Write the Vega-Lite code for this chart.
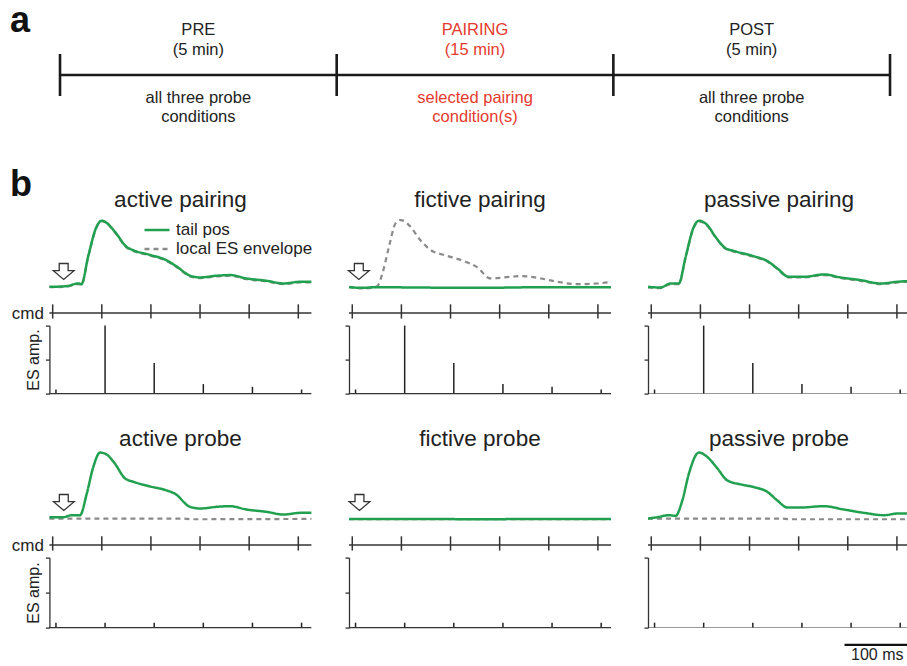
{
  "$schema": "https://vega.github.io/schema/vega-lite/v6.json",
  "padding": 0,
  "background": "white",
  "config": {
    "view": {"stroke": null},
    "font": "Liberation Sans",
    "title": {"font": "Liberation Sans", "color": "#222222", "fontWeight": "normal"},
    "axis": {"titleFont": "Liberation Sans"},
    "line": {"interpolate": "monotone"}
  },
  "datasets": {
    "phases": [
      {"phase": "PRE", "start": 0, "end": 1, "mid": 0.5, "above": ["PRE", "(5 min)"], "below": ["all three probe", "conditions"], "highlight": false},
      {"phase": "PAIRING", "start": 1, "end": 2, "mid": 1.5, "above": ["PAIRING", "(15 min)"], "below": ["selected pairing", "condition(s)"], "highlight": true},
      {"phase": "POST", "start": 2, "end": 3, "mid": 2.5, "above": ["POST", "(5 min)"], "below": ["all three probe", "conditions"], "highlight": false}
    ],
    "boundaries": [{"b": 0}, {"b": 1}, {"b": 2}, {"b": 3}],
    "track": [{"start": 0, "end": 400}],
    "cmd": [{"t": 5}, {"t": 80}, {"t": 155}, {"t": 230}, {"t": 305}, {"t": 380}],
    "es": [
      {"phase": "pairing", "t": 10, "amp": 0.06},
      {"phase": "pairing", "t": 85, "amp": 1.0},
      {"phase": "pairing", "t": 160, "amp": 0.45},
      {"phase": "pairing", "t": 235, "amp": 0.14},
      {"phase": "pairing", "t": 310, "amp": 0.1},
      {"phase": "pairing", "t": 385, "amp": 0.06},
      {"phase": "probe", "t": 10, "amp": 0.07},
      {"phase": "probe", "t": 85, "amp": 0.07},
      {"phase": "probe", "t": 160, "amp": 0.07},
      {"phase": "probe", "t": 235, "amp": 0.07},
      {"phase": "probe", "t": 310, "amp": 0.07},
      {"phase": "probe", "t": 385, "amp": 0.07}
    ],
    "arrows": [
      {"panel": "active pairing", "t": 21.8, "v": 0.234},
      {"panel": "fictive pairing", "t": 15, "v": 0.234},
      {"panel": "active probe", "t": 22, "v": 0.22},
      {"panel": "fictive probe", "t": 16, "v": 0.22}
    ],
    "scalebar": [{"start": 300, "end": 400, "mid": 350, "label": "100 ms"}],
    "traces": [
      {"panel": "active pairing", "series": "tail pos", "t": 0, "v": 0.005},
      {"panel": "active pairing", "series": "tail pos", "t": 26, "v": 0.015},
      {"panel": "active pairing", "series": "tail pos", "t": 44, "v": 0.055},
      {"panel": "active pairing", "series": "tail pos", "t": 49, "v": 0.045},
      {"panel": "active pairing", "series": "tail pos", "t": 59, "v": 0.45},
      {"panel": "active pairing", "series": "tail pos", "t": 72, "v": 0.9},
      {"panel": "active pairing", "series": "tail pos", "t": 80, "v": 0.99},
      {"panel": "active pairing", "series": "tail pos", "t": 87, "v": 0.96},
      {"panel": "active pairing", "series": "tail pos", "t": 100, "v": 0.825},
      {"panel": "active pairing", "series": "tail pos", "t": 118, "v": 0.6},
      {"panel": "active pairing", "series": "tail pos", "t": 128, "v": 0.55},
      {"panel": "active pairing", "series": "tail pos", "t": 154, "v": 0.48},
      {"panel": "active pairing", "series": "tail pos", "t": 179, "v": 0.4},
      {"panel": "active pairing", "series": "tail pos", "t": 194, "v": 0.31},
      {"panel": "active pairing", "series": "tail pos", "t": 215, "v": 0.17},
      {"panel": "active pairing", "series": "tail pos", "t": 230, "v": 0.145},
      {"panel": "active pairing", "series": "tail pos", "t": 255, "v": 0.17},
      {"panel": "active pairing", "series": "tail pos", "t": 276, "v": 0.18},
      {"panel": "active pairing", "series": "tail pos", "t": 301, "v": 0.13},
      {"panel": "active pairing", "series": "tail pos", "t": 332, "v": 0.095},
      {"panel": "active pairing", "series": "tail pos", "t": 357, "v": 0.055},
      {"panel": "active pairing", "series": "tail pos", "t": 383, "v": 0.08},
      {"panel": "active pairing", "series": "tail pos", "t": 400, "v": 0.08},
      {"panel": "active pairing", "series": "local ES envelope", "t": 0, "v": 0.0},
      {"panel": "active pairing", "series": "local ES envelope", "t": 26, "v": 0.005},
      {"panel": "active pairing", "series": "local ES envelope", "t": 44, "v": 0.045},
      {"panel": "active pairing", "series": "local ES envelope", "t": 49, "v": 0.04},
      {"panel": "active pairing", "series": "local ES envelope", "t": 59, "v": 0.44},
      {"panel": "active pairing", "series": "local ES envelope", "t": 72, "v": 0.89},
      {"panel": "active pairing", "series": "local ES envelope", "t": 80, "v": 0.985},
      {"panel": "active pairing", "series": "local ES envelope", "t": 87, "v": 0.955},
      {"panel": "active pairing", "series": "local ES envelope", "t": 100, "v": 0.815},
      {"panel": "active pairing", "series": "local ES envelope", "t": 118, "v": 0.59},
      {"panel": "active pairing", "series": "local ES envelope", "t": 128, "v": 0.54},
      {"panel": "active pairing", "series": "local ES envelope", "t": 154, "v": 0.47},
      {"panel": "active pairing", "series": "local ES envelope", "t": 179, "v": 0.39},
      {"panel": "active pairing", "series": "local ES envelope", "t": 194, "v": 0.3},
      {"panel": "active pairing", "series": "local ES envelope", "t": 215, "v": 0.16},
      {"panel": "active pairing", "series": "local ES envelope", "t": 230, "v": 0.135},
      {"panel": "active pairing", "series": "local ES envelope", "t": 255, "v": 0.16},
      {"panel": "active pairing", "series": "local ES envelope", "t": 276, "v": 0.17},
      {"panel": "active pairing", "series": "local ES envelope", "t": 301, "v": 0.12},
      {"panel": "active pairing", "series": "local ES envelope", "t": 332, "v": 0.085},
      {"panel": "active pairing", "series": "local ES envelope", "t": 357, "v": 0.045},
      {"panel": "active pairing", "series": "local ES envelope", "t": 383, "v": 0.07},
      {"panel": "active pairing", "series": "local ES envelope", "t": 400, "v": 0.07},
      {"panel": "fictive pairing", "series": "tail pos", "t": 0, "v": 0.0},
      {"panel": "fictive pairing", "series": "tail pos", "t": 20, "v": -0.01},
      {"panel": "fictive pairing", "series": "tail pos", "t": 40, "v": 0.0},
      {"panel": "fictive pairing", "series": "tail pos", "t": 100, "v": -0.005},
      {"panel": "fictive pairing", "series": "tail pos", "t": 200, "v": -0.01},
      {"panel": "fictive pairing", "series": "tail pos", "t": 300, "v": 0.0},
      {"panel": "fictive pairing", "series": "tail pos", "t": 400, "v": 0.0},
      {"panel": "fictive pairing", "series": "local ES envelope", "t": 0, "v": 0.005},
      {"panel": "fictive pairing", "series": "local ES envelope", "t": 23, "v": -0.02},
      {"panel": "fictive pairing", "series": "local ES envelope", "t": 43, "v": 0.015},
      {"panel": "fictive pairing", "series": "local ES envelope", "t": 51, "v": 0.205},
      {"panel": "fictive pairing", "series": "local ES envelope", "t": 61, "v": 0.6},
      {"panel": "fictive pairing", "series": "local ES envelope", "t": 71, "v": 0.95},
      {"panel": "fictive pairing", "series": "local ES envelope", "t": 79, "v": 1.0},
      {"panel": "fictive pairing", "series": "local ES envelope", "t": 91.5, "v": 0.925},
      {"panel": "fictive pairing", "series": "local ES envelope", "t": 109, "v": 0.7},
      {"panel": "fictive pairing", "series": "local ES envelope", "t": 125, "v": 0.55},
      {"panel": "fictive pairing", "series": "local ES envelope", "t": 145, "v": 0.48},
      {"panel": "fictive pairing", "series": "local ES envelope", "t": 175, "v": 0.39},
      {"panel": "fictive pairing", "series": "local ES envelope", "t": 196, "v": 0.295},
      {"panel": "fictive pairing", "series": "local ES envelope", "t": 216, "v": 0.13},
      {"panel": "fictive pairing", "series": "local ES envelope", "t": 236.5, "v": 0.145},
      {"panel": "fictive pairing", "series": "local ES envelope", "t": 262, "v": 0.165},
      {"panel": "fictive pairing", "series": "local ES envelope", "t": 287.5, "v": 0.14},
      {"panel": "fictive pairing", "series": "local ES envelope", "t": 318, "v": 0.08},
      {"panel": "fictive pairing", "series": "local ES envelope", "t": 348.5, "v": 0.045},
      {"panel": "fictive pairing", "series": "local ES envelope", "t": 379, "v": 0.055},
      {"panel": "fictive pairing", "series": "local ES envelope", "t": 400, "v": 0.08},
      {"panel": "passive pairing", "series": "tail pos", "t": 0, "v": 0.005},
      {"panel": "passive pairing", "series": "tail pos", "t": 19, "v": -0.005},
      {"panel": "passive pairing", "series": "tail pos", "t": 34.5, "v": 0.055},
      {"panel": "passive pairing", "series": "tail pos", "t": 47, "v": 0.055},
      {"panel": "passive pairing", "series": "tail pos", "t": 57.4, "v": 0.45},
      {"panel": "passive pairing", "series": "tail pos", "t": 70, "v": 0.9},
      {"panel": "passive pairing", "series": "tail pos", "t": 77.7, "v": 0.99},
      {"panel": "passive pairing", "series": "tail pos", "t": 90.5, "v": 0.925},
      {"panel": "passive pairing", "series": "tail pos", "t": 103, "v": 0.75},
      {"panel": "passive pairing", "series": "tail pos", "t": 118.5, "v": 0.58},
      {"panel": "passive pairing", "series": "tail pos", "t": 131, "v": 0.54},
      {"panel": "passive pairing", "series": "tail pos", "t": 161.7, "v": 0.46},
      {"panel": "passive pairing", "series": "tail pos", "t": 182, "v": 0.39},
      {"panel": "passive pairing", "series": "tail pos", "t": 197.4, "v": 0.28},
      {"panel": "passive pairing", "series": "tail pos", "t": 215, "v": 0.154},
      {"panel": "passive pairing", "series": "tail pos", "t": 238, "v": 0.154},
      {"panel": "passive pairing", "series": "tail pos", "t": 268.5, "v": 0.19},
      {"panel": "passive pairing", "series": "tail pos", "t": 294, "v": 0.145},
      {"panel": "passive pairing", "series": "tail pos", "t": 324.6, "v": 0.105},
      {"panel": "passive pairing", "series": "tail pos", "t": 355, "v": 0.055},
      {"panel": "passive pairing", "series": "tail pos", "t": 380.6, "v": 0.08},
      {"panel": "passive pairing", "series": "tail pos", "t": 396, "v": 0.09},
      {"panel": "passive pairing", "series": "tail pos", "t": 400, "v": 0.09},
      {"panel": "passive pairing", "series": "local ES envelope", "t": 0, "v": -0.005},
      {"panel": "passive pairing", "series": "local ES envelope", "t": 19, "v": -0.015},
      {"panel": "passive pairing", "series": "local ES envelope", "t": 34.5, "v": 0.045},
      {"panel": "passive pairing", "series": "local ES envelope", "t": 47, "v": 0.045},
      {"panel": "passive pairing", "series": "local ES envelope", "t": 57.4, "v": 0.44},
      {"panel": "passive pairing", "series": "local ES envelope", "t": 70, "v": 0.89},
      {"panel": "passive pairing", "series": "local ES envelope", "t": 77.7, "v": 0.98},
      {"panel": "passive pairing", "series": "local ES envelope", "t": 90.5, "v": 0.915},
      {"panel": "passive pairing", "series": "local ES envelope", "t": 103, "v": 0.74},
      {"panel": "passive pairing", "series": "local ES envelope", "t": 118.5, "v": 0.57},
      {"panel": "passive pairing", "series": "local ES envelope", "t": 131, "v": 0.53},
      {"panel": "passive pairing", "series": "local ES envelope", "t": 161.7, "v": 0.45},
      {"panel": "passive pairing", "series": "local ES envelope", "t": 182, "v": 0.38},
      {"panel": "passive pairing", "series": "local ES envelope", "t": 197.4, "v": 0.27},
      {"panel": "passive pairing", "series": "local ES envelope", "t": 215, "v": 0.144},
      {"panel": "passive pairing", "series": "local ES envelope", "t": 238, "v": 0.144},
      {"panel": "passive pairing", "series": "local ES envelope", "t": 268.5, "v": 0.18},
      {"panel": "passive pairing", "series": "local ES envelope", "t": 294, "v": 0.135},
      {"panel": "passive pairing", "series": "local ES envelope", "t": 324.6, "v": 0.095},
      {"panel": "passive pairing", "series": "local ES envelope", "t": 355, "v": 0.045},
      {"panel": "passive pairing", "series": "local ES envelope", "t": 380.6, "v": 0.07},
      {"panel": "passive pairing", "series": "local ES envelope", "t": 396, "v": 0.08},
      {"panel": "passive pairing", "series": "local ES envelope", "t": 400, "v": 0.08},
      {"panel": "active probe", "series": "tail pos", "t": 0, "v": 0.0},
      {"panel": "active probe", "series": "tail pos", "t": 21, "v": 0.0},
      {"panel": "active probe", "series": "tail pos", "t": 34, "v": 0.03},
      {"panel": "active probe", "series": "tail pos", "t": 46.7, "v": 0.03},
      {"panel": "active probe", "series": "tail pos", "t": 57, "v": 0.35},
      {"panel": "active probe", "series": "tail pos", "t": 67, "v": 0.75},
      {"panel": "active probe", "series": "tail pos", "t": 77.3, "v": 0.965},
      {"panel": "active probe", "series": "tail pos", "t": 87.5, "v": 0.935},
      {"panel": "active probe", "series": "tail pos", "t": 100, "v": 0.8},
      {"panel": "active probe", "series": "tail pos", "t": 115.4, "v": 0.58},
      {"panel": "active probe", "series": "tail pos", "t": 128, "v": 0.53},
      {"panel": "active probe", "series": "tail pos", "t": 153.6, "v": 0.46},
      {"panel": "active probe", "series": "tail pos", "t": 179, "v": 0.4},
      {"panel": "active probe", "series": "tail pos", "t": 191.8, "v": 0.35},
      {"panel": "active probe", "series": "tail pos", "t": 214.7, "v": 0.155},
      {"panel": "active probe", "series": "tail pos", "t": 230, "v": 0.13},
      {"panel": "active probe", "series": "tail pos", "t": 255.4, "v": 0.155},
      {"panel": "active probe", "series": "tail pos", "t": 275.7, "v": 0.165},
      {"panel": "active probe", "series": "tail pos", "t": 301, "v": 0.115},
      {"panel": "active probe", "series": "tail pos", "t": 332, "v": 0.08},
      {"panel": "active probe", "series": "tail pos", "t": 357, "v": 0.04},
      {"panel": "active probe", "series": "tail pos", "t": 382.6, "v": 0.065},
      {"panel": "active probe", "series": "tail pos", "t": 400, "v": 0.065},
      {"panel": "active probe", "series": "local ES envelope", "t": 0, "v": -0.02},
      {"panel": "active probe", "series": "local ES envelope", "t": 200, "v": -0.02},
      {"panel": "active probe", "series": "local ES envelope", "t": 220, "v": -0.03},
      {"panel": "active probe", "series": "local ES envelope", "t": 400, "v": -0.025},
      {"panel": "fictive probe", "series": "tail pos", "t": 0, "v": -0.025},
      {"panel": "fictive probe", "series": "tail pos", "t": 100, "v": -0.025},
      {"panel": "fictive probe", "series": "tail pos", "t": 200, "v": -0.03},
      {"panel": "fictive probe", "series": "tail pos", "t": 300, "v": -0.025},
      {"panel": "fictive probe", "series": "tail pos", "t": 400, "v": -0.025},
      {"panel": "fictive probe", "series": "local ES envelope", "t": 0, "v": -0.03},
      {"panel": "fictive probe", "series": "local ES envelope", "t": 400, "v": -0.03},
      {"panel": "passive probe", "series": "tail pos", "t": 0, "v": -0.02},
      {"panel": "passive probe", "series": "tail pos", "t": 14, "v": 0.0},
      {"panel": "passive probe", "series": "tail pos", "t": 32, "v": 0.03},
      {"panel": "passive probe", "series": "tail pos", "t": 42, "v": 0.02},
      {"panel": "passive probe", "series": "tail pos", "t": 52.4, "v": 0.25},
      {"panel": "passive probe", "series": "tail pos", "t": 62.4, "v": 0.65},
      {"panel": "passive probe", "series": "tail pos", "t": 77.7, "v": 0.965},
      {"panel": "passive probe", "series": "tail pos", "t": 90.5, "v": 0.9},
      {"panel": "passive probe", "series": "tail pos", "t": 105.8, "v": 0.73},
      {"panel": "passive probe", "series": "tail pos", "t": 121, "v": 0.55},
      {"panel": "passive probe", "series": "tail pos", "t": 141.4, "v": 0.49},
      {"panel": "passive probe", "series": "tail pos", "t": 161.7, "v": 0.45},
      {"panel": "passive probe", "series": "tail pos", "t": 182, "v": 0.38},
      {"panel": "passive probe", "series": "tail pos", "t": 197.4, "v": 0.25},
      {"panel": "passive probe", "series": "tail pos", "t": 212.7, "v": 0.145},
      {"panel": "passive probe", "series": "tail pos", "t": 233, "v": 0.145},
      {"panel": "passive probe", "series": "tail pos", "t": 268.5, "v": 0.165},
      {"panel": "passive probe", "series": "tail pos", "t": 299, "v": 0.115},
      {"panel": "passive probe", "series": "tail pos", "t": 330, "v": 0.065},
      {"panel": "passive probe", "series": "tail pos", "t": 360.6, "v": 0.03},
      {"panel": "passive probe", "series": "tail pos", "t": 380.6, "v": 0.055},
      {"panel": "passive probe", "series": "tail pos", "t": 400, "v": 0.055},
      {"panel": "passive probe", "series": "local ES envelope", "t": 0, "v": -0.02},
      {"panel": "passive probe", "series": "local ES envelope", "t": 200, "v": -0.02},
      {"panel": "passive probe", "series": "local ES envelope", "t": 220, "v": -0.03},
      {"panel": "passive probe", "series": "local ES envelope", "t": 400, "v": -0.03}
    ]
  },
  "spacing": 66.6,
  "bounds": "flush",
  "vconcat": [
    {
      "width": 907,
      "height": 140,
      "title": {"text": "a", "anchor": "start", "frame": "group", "fontSize": 36, "fontWeight": "bold", "color": "#111111", "baseline": "alphabetic", "offset": -68, "dx": 10},
      "layer": [
        {
          "data": {"name": "phases"},
          "mark": {"type": "rule", "color": "#1a1a1a", "strokeWidth": 2.6},
          "encoding": {
            "x": {"field": "start", "type": "quantitative", "scale": {"domain": [-0.2169, 3.0614], "nice": false, "zero": false}, "axis": null},
            "x2": {"field": "end"},
            "y": {"datum": 0, "type": "quantitative", "scale": {"domain": [-3.095, 3.571], "nice": false, "zero": false}, "axis": null}
          }
        },
        {
          "data": {"name": "boundaries"},
          "mark": {"type": "rule", "color": "#1a1a1a", "strokeWidth": 2.6},
          "encoding": {
            "x": {"field": "b", "type": "quantitative", "axis": null},
            "y": {"datum": -1, "type": "quantitative", "axis": null},
            "y2": {"datum": 1}
          }
        },
        {
          "data": {"name": "phases"},
          "transform": [{"filter": "!datum.highlight"}],
          "mark": {"type": "text", "fontSize": 16.5, "lineHeight": 20, "baseline": "middle", "dy": -45, "color": "#222222"},
          "encoding": {
            "x": {"field": "mid", "type": "quantitative", "axis": null},
            "y": {"datum": 0, "type": "quantitative", "axis": null},
            "text": {"field": "above"}
          }
        },
        {
          "data": {"name": "phases"},
          "transform": [{"filter": "!datum.highlight"}],
          "mark": {"type": "text", "fontSize": 16.5, "lineHeight": 19, "baseline": "middle", "dy": 23, "color": "#222222"},
          "encoding": {
            "x": {"field": "mid", "type": "quantitative", "axis": null},
            "y": {"datum": 0, "type": "quantitative", "axis": null},
            "text": {"field": "below"}
          }
        },
        {
          "data": {"name": "phases"},
          "transform": [{"filter": "datum.highlight"}],
          "mark": {"type": "text", "fontSize": 16.5, "lineHeight": 20, "baseline": "middle", "dy": -45, "color": "#e53a2e"},
          "encoding": {
            "x": {"field": "mid", "type": "quantitative", "axis": null},
            "y": {"datum": 0, "type": "quantitative", "axis": null},
            "text": {"field": "above"}
          }
        },
        {
          "data": {"name": "phases"},
          "transform": [{"filter": "datum.highlight"}],
          "mark": {"type": "text", "fontSize": 16.5, "lineHeight": 19, "baseline": "middle", "dy": 23, "color": "#e53a2e"},
          "encoding": {
            "x": {"field": "mid", "type": "quantitative", "axis": null},
            "y": {"datum": 0, "type": "quantitative", "axis": null},
            "text": {"field": "below"}
          }
        }
      ]
    },
    {
      "title": {"text": "b", "anchor": "start", "frame": "group", "fontSize": 36, "fontWeight": "bold", "color": "#111111", "baseline": "alphabetic", "offset": -43, "dx": 10},
      "columns": 3,
      "spacing": {"row": 0, "column": 37},
      "bounds": "flush",
      "concat": [
        {
          "width": 311.4, "height": 94,
          "title": {"text": "active pairing", "fontSize": 22.5, "baseline": "alphabetic", "offset": -22.5, "dx": 24.7},
          "layer": [
            {
              "data": {"name": "traces"},
              "transform": [{"filter": "datum.panel === 'active pairing' && datum.series === 'local ES envelope'"}],
              "mark": {"type": "line", "strokeWidth": 2.2, "strokeCap": "butt"},
              "encoding": {
                "x": {"field": "t", "type": "quantitative", "scale": {"domain": [-75.42, 400], "nice": false, "zero": false}, "axis": null},
                "y": {"field": "v", "type": "quantitative", "scale": {"domain": [-0.2, 1.2], "nice": false, "zero": false}, "axis": null},
                "color": {"field": "series", "type": "nominal", "scale": {"domain": ["tail pos", "local ES envelope"], "range": ["#21a04f", "#8a8a8a"]},
                  "legend": {"orient": "none", "legendX": 143, "legendY": 222.6, "title": null, "symbolType": "stroke", "symbolSize": 625, "symbolStrokeWidth": 2.4, "labelFontSize": 17, "labelColor": "#222222", "labelFont": "Liberation Sans", "labelOffset": 5, "rowPadding": 1, "clipHeight": 14.7, "padding": 0, "labelLimit": 300}},
                "strokeDash": {"field": "series", "type": "nominal", "scale": {"domain": ["tail pos", "local ES envelope"], "range": [[1, 0], [5, 4]]},
                  "legend": {"orient": "none", "legendX": 143, "legendY": 222.6, "title": null, "symbolType": "stroke", "symbolSize": 625, "symbolStrokeWidth": 2.4, "labelFontSize": 17, "labelColor": "#222222", "labelFont": "Liberation Sans", "labelOffset": 5, "rowPadding": 1, "clipHeight": 14.7, "padding": 0, "labelLimit": 300}}
              }
            },
            {
              "data": {"name": "traces"},
              "transform": [{"filter": "datum.panel === 'active pairing' && datum.series === 'tail pos'"}],
              "mark": {"type": "line", "strokeWidth": 2.5},
              "encoding": {
                "x": {"field": "t", "type": "quantitative", "axis": null},
                "y": {"field": "v", "type": "quantitative", "axis": null},
                "color": {"field": "series", "type": "nominal"},
                "strokeDash": {"field": "series", "type": "nominal"}
              }
            },
            {
              "data": {"name": "arrows"},
              "transform": [{"filter": "datum.panel === 'active pairing'"}],
              "mark": {"type": "point", "shape": "M-0.43,-0.77L0.43,-0.77L0.43,-0.08L1,-0.08L0,0.77L-1,-0.08L-0.43,-0.08Z", "size": 428, "filled": true, "fill": "white", "stroke": "#333333", "strokeWidth": 1.3, "opacity": 1},
              "encoding": {
                "x": {"field": "t", "type": "quantitative", "axis": null},
                "y": {"field": "v", "type": "quantitative", "axis": null}
              }
            }
          ]
        },
        {
          "width": 262, "height": 94,
          "title": {"text": "fictive pairing", "fontSize": 22.5, "baseline": "alphabetic", "offset": -22.5},
          "layer": [
            {
              "data": {"name": "traces"},
              "transform": [{"filter": "datum.panel === 'fictive pairing' && datum.series === 'local ES envelope'"}],
              "mark": {"type": "line", "strokeWidth": 2.2, "strokeCap": "butt"},
              "encoding": {
                "x": {"field": "t", "type": "quantitative", "scale": {"domain": [0, 400], "nice": false, "zero": false}, "axis": null},
                "y": {"field": "v", "type": "quantitative", "scale": {"domain": [-0.2, 1.2], "nice": false, "zero": false}, "axis": null},
                "color": {"field": "series", "type": "nominal"},
                "strokeDash": {"field": "series", "type": "nominal"}
              }
            },
            {
              "data": {"name": "traces"},
              "transform": [{"filter": "datum.panel === 'fictive pairing' && datum.series === 'tail pos'"}],
              "mark": {"type": "line", "strokeWidth": 2.5},
              "encoding": {
                "x": {"field": "t", "type": "quantitative", "axis": null},
                "y": {"field": "v", "type": "quantitative", "axis": null},
                "color": {"field": "series", "type": "nominal"},
                "strokeDash": {"field": "series", "type": "nominal"}
              }
            },
            {
              "data": {"name": "arrows"},
              "transform": [{"filter": "datum.panel === 'fictive pairing'"}],
              "mark": {"type": "point", "shape": "M-0.43,-0.77L0.43,-0.77L0.43,-0.08L1,-0.08L0,0.77L-1,-0.08L-0.43,-0.08Z", "size": 428, "filled": true, "fill": "white", "stroke": "#333333", "strokeWidth": 1.3, "opacity": 1},
              "encoding": {
                "x": {"field": "t", "type": "quantitative", "axis": null},
                "y": {"field": "v", "type": "quantitative", "axis": null}
              }
            }
          ]
        },
        {
          "width": 259.6, "height": 94,
          "title": {"text": "passive pairing", "fontSize": 22.5, "baseline": "alphabetic", "offset": -22.5, "dx": 1.2},
          "layer": [
            {
              "data": {"name": "traces"},
              "transform": [{"filter": "datum.panel === 'passive pairing' && datum.series === 'local ES envelope'"}],
              "mark": {"type": "line", "strokeWidth": 2.2, "strokeCap": "butt", "clip": true},
              "encoding": {
                "x": {"field": "t", "type": "quantitative", "scale": {"domain": [0, 396.3], "nice": false, "zero": false}, "axis": null},
                "y": {"field": "v", "type": "quantitative", "scale": {"domain": [-0.2, 1.2], "nice": false, "zero": false}, "axis": null},
                "color": {"field": "series", "type": "nominal"},
                "strokeDash": {"field": "series", "type": "nominal"}
              }
            },
            {
              "data": {"name": "traces"},
              "transform": [{"filter": "datum.panel === 'passive pairing' && datum.series === 'tail pos'"}],
              "mark": {"type": "line", "strokeWidth": 2.5, "clip": true},
              "encoding": {
                "x": {"field": "t", "type": "quantitative", "axis": null},
                "y": {"field": "v", "type": "quantitative", "axis": null},
                "color": {"field": "series", "type": "nominal"},
                "strokeDash": {"field": "series", "type": "nominal"}
              }
            }
          ]
        },
        {
          "width": 311.4, "height": 24.8,
          "layer": [
            {
              "data": {"name": "cmd"},
              "mark": {"type": "rule", "color": "#333333", "strokeWidth": 1.5},
              "encoding": {
                "x": {"field": "t", "type": "quantitative", "scale": {"domain": [-75.42, 400], "nice": false, "zero": false}, "axis": null},
                "y": {"datum": 0.7, "type": "quantitative", "scale": {"domain": [-1, 1], "nice": false, "zero": false},
                  "axis": {"title": "cmd", "offset": -49.4, "domain": false, "ticks": false, "labels": false, "grid": false, "titleAngle": 0, "titleAlign": "right", "titleBaseline": "middle", "titleX": -6, "titleY": 12.4, "titleFontSize": 17, "titleFontWeight": "normal", "titleColor": "#222222"}},
                "y2": {"datum": -0.45}
              }
            },
            {
              "data": {"name": "track"},
              "mark": {"type": "rule", "color": "#333333", "strokeWidth": 1.3},
              "encoding": {
                "x": {"field": "start", "type": "quantitative", "axis": null},
                "x2": {"field": "end"},
                "y": {"datum": 0, "type": "quantitative",
                  "axis": {"title": "cmd", "offset": -49.4, "domain": false, "ticks": false, "labels": false, "grid": false, "titleAngle": 0, "titleAlign": "right", "titleBaseline": "middle", "titleX": -6, "titleY": 12.4, "titleFontSize": 17, "titleFontWeight": "normal", "titleColor": "#222222"}}
              }
            }
          ]
        },
        {
          "width": 262, "height": 24.8,
          "layer": [
            {
              "data": {"name": "track"},
              "mark": {"type": "rule", "color": "#333333", "strokeWidth": 1.3},
              "encoding": {
                "x": {"field": "start", "type": "quantitative", "scale": {"domain": [0, 400], "nice": false, "zero": false}, "axis": null},
                "x2": {"field": "end"},
                "y": {"datum": 0, "type": "quantitative", "scale": {"domain": [-1, 1], "nice": false, "zero": false}, "axis": null}
              }
            },
            {
              "data": {"name": "cmd"},
              "mark": {"type": "rule", "color": "#333333", "strokeWidth": 1.5},
              "encoding": {
                "x": {"field": "t", "type": "quantitative", "axis": null},
                "y": {"datum": 0.7, "type": "quantitative", "axis": null},
                "y2": {"datum": -0.45}
              }
            }
          ]
        },
        {
          "width": 259.6, "height": 24.8,
          "layer": [
            {
              "data": {"name": "track"},
              "mark": {"type": "rule", "color": "#333333", "strokeWidth": 1.3, "clip": true},
              "encoding": {
                "x": {"field": "start", "type": "quantitative", "scale": {"domain": [0, 396.3], "nice": false, "zero": false}, "axis": null},
                "x2": {"field": "end"},
                "y": {"datum": 0, "type": "quantitative", "scale": {"domain": [-1, 1], "nice": false, "zero": false}, "axis": null}
              }
            },
            {
              "data": {"name": "cmd"},
              "mark": {"type": "rule", "color": "#333333", "strokeWidth": 1.5},
              "encoding": {
                "x": {"field": "t", "type": "quantitative", "axis": null},
                "y": {"datum": 0.7, "type": "quantitative", "axis": null},
                "y2": {"datum": -0.45}
              }
            }
          ]
        },
        {
          "width": 311.4, "height": 68,
          "layer": [
            {
              "data": {"name": "es"},
              "transform": [{"filter": "datum.phase === 'pairing'"}],
              "mark": {"type": "rule", "color": "#222222", "strokeWidth": 1.5},
              "encoding": {
                "x": {"field": "t", "type": "quantitative", "scale": {"domain": [-75.42, 400], "nice": false, "zero": false}, "axis": null},
                "y": {"field": "amp", "type": "quantitative", "scale": {"domain": [0, 1], "nice": false, "zero": false},
                  "axis": {"title": "ES amp.", "offset": -49.4, "values": [0, 0.5, 1], "labels": false, "grid": false, "ticks": true, "tickSize": 4, "tickColor": "#333333", "tickWidth": 1.3, "domainColor": "#333333", "domainWidth": 1.3, "titleFontSize": 16, "titleFontWeight": "normal", "titleColor": "#222222", "titlePadding": 3}},
                "y2": {"datum": 0}
              }
            },
            {
              "data": {"name": "track"},
              "mark": {"type": "rule", "color": "#333333", "strokeWidth": 1.3},
              "encoding": {
                "x": {"field": "start", "type": "quantitative", "axis": null},
                "x2": {"field": "end"},
                "y": {"datum": 0, "type": "quantitative",
                  "axis": {"title": "ES amp.", "offset": -49.4, "values": [0, 0.5, 1], "labels": false, "grid": false, "ticks": true, "tickSize": 4, "tickColor": "#333333", "tickWidth": 1.3, "domainColor": "#333333", "domainWidth": 1.3, "titleFontSize": 16, "titleFontWeight": "normal", "titleColor": "#222222", "titlePadding": 3}}
              }
            }
          ]
        },
        {
          "width": 262, "height": 68,
          "layer": [
            {
              "data": {"name": "es"},
              "transform": [{"filter": "datum.phase === 'pairing'"}],
              "mark": {"type": "rule", "color": "#222222", "strokeWidth": 1.5},
              "encoding": {
                "x": {"field": "t", "type": "quantitative", "scale": {"domain": [0, 400], "nice": false, "zero": false}, "axis": null},
                "y": {"field": "amp", "type": "quantitative", "scale": {"domain": [0, 1], "nice": false, "zero": false},
                  "axis": {"title": null, "values": [0, 0.5, 1], "labels": false, "grid": false, "ticks": true, "tickSize": 4, "tickColor": "#333333", "tickWidth": 1.3, "domainColor": "#333333", "domainWidth": 1.3}},
                "y2": {"datum": 0}
              }
            },
            {
              "data": {"name": "track"},
              "mark": {"type": "rule", "color": "#333333", "strokeWidth": 1.3},
              "encoding": {
                "x": {"field": "start", "type": "quantitative", "axis": null},
                "x2": {"field": "end"},
                "y": {"datum": 0, "type": "quantitative",
                  "axis": {"title": null, "values": [0, 0.5, 1], "labels": false, "grid": false, "ticks": true, "tickSize": 4, "tickColor": "#333333", "tickWidth": 1.3, "domainColor": "#333333", "domainWidth": 1.3}}
              }
            }
          ]
        },
        {
          "width": 259.6, "height": 68,
          "layer": [
            {
              "data": {"name": "es"},
              "transform": [{"filter": "datum.phase === 'pairing'"}],
              "mark": {"type": "rule", "color": "#222222", "strokeWidth": 1.5},
              "encoding": {
                "x": {"field": "t", "type": "quantitative", "scale": {"domain": [0, 396.3], "nice": false, "zero": false}, "axis": null},
                "y": {"field": "amp", "type": "quantitative", "scale": {"domain": [0, 1], "nice": false, "zero": false},
                  "axis": {"title": null, "values": [0, 0.5, 1], "labels": false, "grid": false, "ticks": true, "tickSize": 4, "tickColor": "#333333", "tickWidth": 1.3, "domainColor": "#333333", "domainWidth": 1.3}},
                "y2": {"datum": 0}
              }
            },
            {
              "data": {"name": "track"},
              "mark": {"type": "rule", "color": "#333333", "strokeWidth": 1.3, "clip": true},
              "encoding": {
                "x": {"field": "start", "type": "quantitative", "axis": null},
                "x2": {"field": "end"},
                "y": {"datum": 0, "type": "quantitative",
                  "axis": {"title": null, "values": [0, 0.5, 1], "labels": false, "grid": false, "ticks": true, "tickSize": 4, "tickColor": "#333333", "tickWidth": 1.3, "domainColor": "#333333", "domainWidth": 1.3}}
              }
            }
          ]
        },
        {
          "width": 311.4, "height": 138.5,
          "title": {"text": "active probe", "fontSize": 22.5, "baseline": "alphabetic", "offset": -75.1, "dx": 24.7},
          "layer": [
            {
              "data": {"name": "traces"},
              "transform": [{"filter": "datum.panel === 'active probe' && datum.series === 'local ES envelope'"}],
              "mark": {"type": "line", "strokeWidth": 2.2, "strokeCap": "butt"},
              "encoding": {
                "x": {"field": "t", "type": "quantitative", "scale": {"domain": [-75.42, 400], "nice": false, "zero": false}, "axis": null},
                "y": {"field": "v", "type": "quantitative", "scale": {"domain": [-0.222, 1.845], "nice": false, "zero": false}, "axis": null},
                "color": {"field": "series", "type": "nominal"},
                "strokeDash": {"field": "series", "type": "nominal"}
              }
            },
            {
              "data": {"name": "traces"},
              "transform": [{"filter": "datum.panel === 'active probe' && datum.series === 'tail pos'"}],
              "mark": {"type": "line", "strokeWidth": 2.5},
              "encoding": {
                "x": {"field": "t", "type": "quantitative", "axis": null},
                "y": {"field": "v", "type": "quantitative", "axis": null},
                "color": {"field": "series", "type": "nominal"},
                "strokeDash": {"field": "series", "type": "nominal"}
              }
            },
            {
              "data": {"name": "arrows"},
              "transform": [{"filter": "datum.panel === 'active probe'"}],
              "mark": {"type": "point", "shape": "M-0.43,-0.77L0.43,-0.77L0.43,-0.08L1,-0.08L0,0.77L-1,-0.08L-0.43,-0.08Z", "size": 428, "filled": true, "fill": "white", "stroke": "#333333", "strokeWidth": 1.3, "opacity": 1},
              "encoding": {
                "x": {"field": "t", "type": "quantitative", "axis": null},
                "y": {"field": "v", "type": "quantitative", "axis": null}
              }
            }
          ]
        },
        {
          "width": 262, "height": 138.5,
          "title": {"text": "fictive probe", "fontSize": 22.5, "baseline": "alphabetic", "offset": -75.1},
          "layer": [
            {
              "data": {"name": "traces"},
              "transform": [{"filter": "datum.panel === 'fictive probe' && datum.series === 'local ES envelope'"}],
              "mark": {"type": "line", "strokeWidth": 2.2, "strokeCap": "butt"},
              "encoding": {
                "x": {"field": "t", "type": "quantitative", "scale": {"domain": [0, 400], "nice": false, "zero": false}, "axis": null},
                "y": {"field": "v", "type": "quantitative", "scale": {"domain": [-0.222, 1.845], "nice": false, "zero": false}, "axis": null},
                "color": {"field": "series", "type": "nominal"},
                "strokeDash": {"field": "series", "type": "nominal"}
              }
            },
            {
              "data": {"name": "traces"},
              "transform": [{"filter": "datum.panel === 'fictive probe' && datum.series === 'tail pos'"}],
              "mark": {"type": "line", "strokeWidth": 2.5},
              "encoding": {
                "x": {"field": "t", "type": "quantitative", "axis": null},
                "y": {"field": "v", "type": "quantitative", "axis": null},
                "color": {"field": "series", "type": "nominal"},
                "strokeDash": {"field": "series", "type": "nominal"}
              }
            },
            {
              "data": {"name": "arrows"},
              "transform": [{"filter": "datum.panel === 'fictive probe'"}],
              "mark": {"type": "point", "shape": "M-0.43,-0.77L0.43,-0.77L0.43,-0.08L1,-0.08L0,0.77L-1,-0.08L-0.43,-0.08Z", "size": 428, "filled": true, "fill": "white", "stroke": "#333333", "strokeWidth": 1.3, "opacity": 1},
              "encoding": {
                "x": {"field": "t", "type": "quantitative", "axis": null},
                "y": {"field": "v", "type": "quantitative", "axis": null}
              }
            }
          ]
        },
        {
          "width": 259.6, "height": 138.5,
          "title": {"text": "passive probe", "fontSize": 22.5, "baseline": "alphabetic", "offset": -75.1, "dx": 1.2},
          "layer": [
            {
              "data": {"name": "traces"},
              "transform": [{"filter": "datum.panel === 'passive probe' && datum.series === 'local ES envelope'"}],
              "mark": {"type": "line", "strokeWidth": 2.2, "strokeCap": "butt", "clip": true},
              "encoding": {
                "x": {"field": "t", "type": "quantitative", "scale": {"domain": [0, 396.3], "nice": false, "zero": false}, "axis": null},
                "y": {"field": "v", "type": "quantitative", "scale": {"domain": [-0.222, 1.845], "nice": false, "zero": false}, "axis": null},
                "color": {"field": "series", "type": "nominal"},
                "strokeDash": {"field": "series", "type": "nominal"}
              }
            },
            {
              "data": {"name": "traces"},
              "transform": [{"filter": "datum.panel === 'passive probe' && datum.series === 'tail pos'"}],
              "mark": {"type": "line", "strokeWidth": 2.5, "clip": true},
              "encoding": {
                "x": {"field": "t", "type": "quantitative", "axis": null},
                "y": {"field": "v", "type": "quantitative", "axis": null},
                "color": {"field": "series", "type": "nominal"},
                "strokeDash": {"field": "series", "type": "nominal"}
              }
            }
          ]
        },
        {
          "width": 311.4, "height": 24.8,
          "layer": [
            {
              "data": {"name": "cmd"},
              "mark": {"type": "rule", "color": "#333333", "strokeWidth": 1.5},
              "encoding": {
                "x": {"field": "t", "type": "quantitative", "scale": {"domain": [-75.42, 400], "nice": false, "zero": false}, "axis": null},
                "y": {"datum": 0.7, "type": "quantitative", "scale": {"domain": [-1, 1], "nice": false, "zero": false},
                  "axis": {"title": "cmd", "offset": -49.4, "domain": false, "ticks": false, "labels": false, "grid": false, "titleAngle": 0, "titleAlign": "right", "titleBaseline": "middle", "titleX": -6, "titleY": 12.4, "titleFontSize": 17, "titleFontWeight": "normal", "titleColor": "#222222"}},
                "y2": {"datum": -0.45}
              }
            },
            {
              "data": {"name": "track"},
              "mark": {"type": "rule", "color": "#333333", "strokeWidth": 1.3},
              "encoding": {
                "x": {"field": "start", "type": "quantitative", "axis": null},
                "x2": {"field": "end"},
                "y": {"datum": 0, "type": "quantitative",
                  "axis": {"title": "cmd", "offset": -49.4, "domain": false, "ticks": false, "labels": false, "grid": false, "titleAngle": 0, "titleAlign": "right", "titleBaseline": "middle", "titleX": -6, "titleY": 12.4, "titleFontSize": 17, "titleFontWeight": "normal", "titleColor": "#222222"}}
              }
            }
          ]
        },
        {
          "width": 262, "height": 24.8,
          "layer": [
            {
              "data": {"name": "track"},
              "mark": {"type": "rule", "color": "#333333", "strokeWidth": 1.3},
              "encoding": {
                "x": {"field": "start", "type": "quantitative", "scale": {"domain": [0, 400], "nice": false, "zero": false}, "axis": null},
                "x2": {"field": "end"},
                "y": {"datum": 0, "type": "quantitative", "scale": {"domain": [-1, 1], "nice": false, "zero": false}, "axis": null}
              }
            },
            {
              "data": {"name": "cmd"},
              "mark": {"type": "rule", "color": "#333333", "strokeWidth": 1.5},
              "encoding": {
                "x": {"field": "t", "type": "quantitative", "axis": null},
                "y": {"datum": 0.7, "type": "quantitative", "axis": null},
                "y2": {"datum": -0.45}
              }
            }
          ]
        },
        {
          "width": 259.6, "height": 24.8,
          "layer": [
            {
              "data": {"name": "track"},
              "mark": {"type": "rule", "color": "#333333", "strokeWidth": 1.3, "clip": true},
              "encoding": {
                "x": {"field": "start", "type": "quantitative", "scale": {"domain": [0, 396.3], "nice": false, "zero": false}, "axis": null},
                "x2": {"field": "end"},
                "y": {"datum": 0, "type": "quantitative", "scale": {"domain": [-1, 1], "nice": false, "zero": false}, "axis": null}
              }
            },
            {
              "data": {"name": "cmd"},
              "mark": {"type": "rule", "color": "#333333", "strokeWidth": 1.5},
              "encoding": {
                "x": {"field": "t", "type": "quantitative", "axis": null},
                "y": {"datum": 0.7, "type": "quantitative", "axis": null},
                "y2": {"datum": -0.45}
              }
            }
          ]
        },
        {
          "width": 311.4, "height": 70,
          "layer": [
            {
              "data": {"name": "es"},
              "transform": [{"filter": "datum.phase === 'probe'"}],
              "mark": {"type": "rule", "color": "#222222", "strokeWidth": 1.5},
              "encoding": {
                "x": {"field": "t", "type": "quantitative", "scale": {"domain": [-75.42, 400], "nice": false, "zero": false}, "axis": null},
                "y": {"field": "amp", "type": "quantitative", "scale": {"domain": [0, 1], "nice": false, "zero": false},
                  "axis": {"title": "ES amp.", "offset": -49.4, "values": [0, 0.5, 1], "labels": false, "grid": false, "ticks": true, "tickSize": 4, "tickColor": "#333333", "tickWidth": 1.3, "domainColor": "#333333", "domainWidth": 1.3, "titleFontSize": 16, "titleFontWeight": "normal", "titleColor": "#222222", "titlePadding": 3}},
                "y2": {"datum": 0}
              }
            },
            {
              "data": {"name": "track"},
              "mark": {"type": "rule", "color": "#333333", "strokeWidth": 1.3},
              "encoding": {
                "x": {"field": "start", "type": "quantitative", "axis": null},
                "x2": {"field": "end"},
                "y": {"datum": 0, "type": "quantitative",
                  "axis": {"title": "ES amp.", "offset": -49.4, "values": [0, 0.5, 1], "labels": false, "grid": false, "ticks": true, "tickSize": 4, "tickColor": "#333333", "tickWidth": 1.3, "domainColor": "#333333", "domainWidth": 1.3, "titleFontSize": 16, "titleFontWeight": "normal", "titleColor": "#222222", "titlePadding": 3}}
              }
            }
          ]
        },
        {
          "width": 262, "height": 70,
          "layer": [
            {
              "data": {"name": "es"},
              "transform": [{"filter": "datum.phase === 'probe'"}],
              "mark": {"type": "rule", "color": "#222222", "strokeWidth": 1.5},
              "encoding": {
                "x": {"field": "t", "type": "quantitative", "scale": {"domain": [0, 400], "nice": false, "zero": false}, "axis": null},
                "y": {"field": "amp", "type": "quantitative", "scale": {"domain": [0, 1], "nice": false, "zero": false},
                  "axis": {"title": null, "values": [0, 0.5, 1], "labels": false, "grid": false, "ticks": true, "tickSize": 4, "tickColor": "#333333", "tickWidth": 1.3, "domainColor": "#333333", "domainWidth": 1.3}},
                "y2": {"datum": 0}
              }
            },
            {
              "data": {"name": "track"},
              "mark": {"type": "rule", "color": "#333333", "strokeWidth": 1.3},
              "encoding": {
                "x": {"field": "start", "type": "quantitative", "axis": null},
                "x2": {"field": "end"},
                "y": {"datum": 0, "type": "quantitative",
                  "axis": {"title": null, "values": [0, 0.5, 1], "labels": false, "grid": false, "ticks": true, "tickSize": 4, "tickColor": "#333333", "tickWidth": 1.3, "domainColor": "#333333", "domainWidth": 1.3}}
              }
            }
          ]
        },
        {
          "width": 259.6, "height": 70,
          "layer": [
            {
              "data": {"name": "es"},
              "transform": [{"filter": "datum.phase === 'probe'"}],
              "mark": {"type": "rule", "color": "#222222", "strokeWidth": 1.5},
              "encoding": {
                "x": {"field": "t", "type": "quantitative", "scale": {"domain": [0, 396.3], "nice": false, "zero": false}, "axis": null},
                "y": {"field": "amp", "type": "quantitative", "scale": {"domain": [0, 1], "nice": false, "zero": false},
                  "axis": {"title": null, "values": [0, 0.5, 1], "labels": false, "grid": false, "ticks": true, "tickSize": 4, "tickColor": "#333333", "tickWidth": 1.3, "domainColor": "#333333", "domainWidth": 1.3}},
                "y2": {"datum": 0}
              }
            },
            {
              "data": {"name": "track"},
              "mark": {"type": "rule", "color": "#333333", "strokeWidth": 1.3, "clip": true},
              "encoding": {
                "x": {"field": "start", "type": "quantitative", "axis": null},
                "x2": {"field": "end"},
                "y": {"datum": 0, "type": "quantitative",
                  "axis": {"title": null, "values": [0, 0.5, 1], "labels": false, "grid": false, "ticks": true, "tickSize": 4, "tickColor": "#333333", "tickWidth": 1.3, "domainColor": "#333333", "domainWidth": 1.3}}
              }
            },
            {
              "data": {"name": "scalebar"},
              "mark": {"type": "rule", "color": "#111111", "strokeWidth": 2.4},
              "encoding": {
                "x": {"field": "start", "type": "quantitative"},
                "x2": {"field": "end"},
                "y": {"datum": -0.247, "type": "quantitative"}
              }
            },
            {
              "data": {"name": "scalebar"},
              "mark": {"type": "text", "fontSize": 16, "baseline": "middle", "align": "center", "color": "#222222"},
              "encoding": {
                "x": {"field": "mid", "type": "quantitative"},
                "y": {"datum": -0.39, "type": "quantitative"},
                "text": {"field": "label"}
              }
            }
          ]
        }
      ]
    }
  ]
}
